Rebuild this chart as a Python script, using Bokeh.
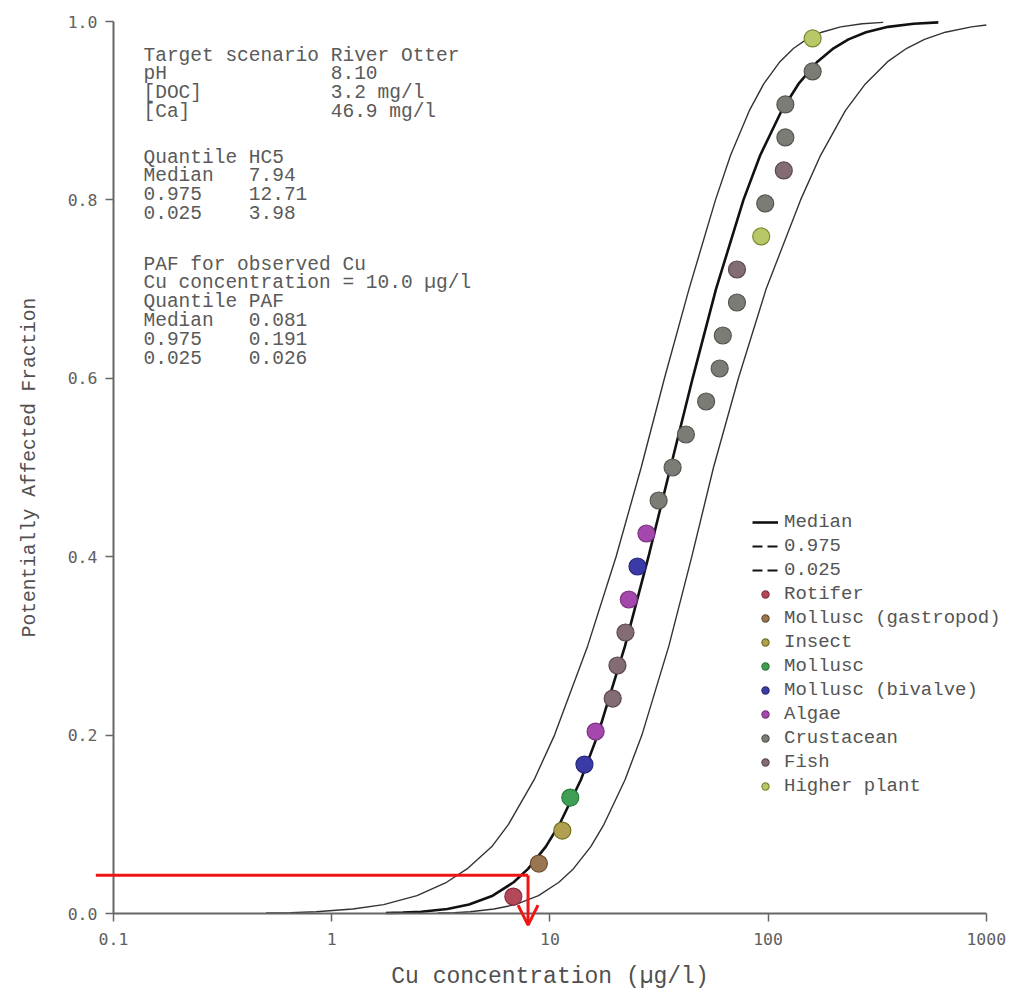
from bokeh.plotting import figure
from bokeh.models import (FixedTicker, Range1d, Legend, LegendItem, Label, Arrow,
                          OpenHead, NumeralTickFormatter)
from bokeh.embed import file_html
from bokeh.resources import INLINE

# ---------------- data ----------------
curve_paf = [0.0005, 0.001, 0.002, 0.005, 0.01, 0.02, 0.035, 0.05, 0.075, 0.1, 0.15, 0.2,
             0.3, 0.4, 0.5, 0.6, 0.7, 0.8, 0.85, 0.9, 0.93, 0.955, 0.97, 0.98, 0.988,
             0.994, 0.9975, 0.999]
median_conc = [1.77, 2.12, 2.57, 3.39, 4.26, 5.47, 6.82, 7.94, 9.58, 11.07, 13.87, 16.56,
               22.1, 28.3, 35.7, 45.1, 57.7, 77.1, 92.0, 115.3, 137.8, 168.3, 199.5,
               233.5, 281, 354.8, 464.5, 602.6]
upper_conc = [0.50, 0.647, 0.849, 1.25, 1.73, 2.46, 3.36, 4.17, 5.42, 6.46, 8.47, 10.5,
              14.9, 20.1, 26.2, 33.5, 43.4, 57.4, 67.3, 82.0, 95.5, 113.3, 131, 150,
              176, 215, 270, 337]
lower_paf = [0.0005, 0.001, 0.002, 0.005, 0.01, 0.02, 0.035, 0.05, 0.075, 0.1, 0.15, 0.2,
             0.3, 0.4, 0.5, 0.6, 0.7, 0.8, 0.85, 0.9, 0.93, 0.955, 0.97, 0.98, 0.988,
             0.994, 0.996]
lower_conc = [3.06, 3.65, 4.31, 5.55, 6.95, 8.87, 11.0, 12.8, 15.4, 17.7, 22.1, 26.4,
              35.1, 44.7, 56.2, 73.1, 97.9, 140.9, 174, 226, 279, 353, 432, 521, 649,
              855, 1000]

point_conc = [6.8, 8.9, 11.4, 12.4, 14.4, 16.2, 19.4, 20.4, 22.2, 23.0, 25.2, 27.7, 31.5,
              36.5, 42, 52, 60, 62, 72, 72, 93, 97, 118, 120, 120, 160, 160]
point_paf = [0.019, 0.056, 0.093, 0.130, 0.167, 0.204, 0.241, 0.278, 0.315, 0.352, 0.389,
             0.426, 0.463, 0.500, 0.537, 0.574, 0.611, 0.648, 0.685, 0.722, 0.759, 0.796,
             0.833, 0.870, 0.907, 0.944, 0.981]
point_group = ["Rotifer", "Mollusc (gastropod)", "Insect", "Mollusc", "Mollusc (bivalve)",
               "Algae", "Fish", "Fish", "Fish", "Algae", "Mollusc (bivalve)", "Algae",
               "Crustacean", "Crustacean", "Crustacean", "Crustacean", "Crustacean",
               "Crustacean", "Crustacean", "Fish", "Higher plant", "Crustacean", "Fish",
               "Crustacean", "Crustacean", "Crustacean", "Higher plant"]

groups = ["Rotifer", "Mollusc (gastropod)", "Insect", "Mollusc", "Mollusc (bivalve)",
          "Algae", "Crustacean", "Fish", "Higher plant"]
group_fill = ["#b2485a", "#9a7650", "#b0a050", "#3f9f55", "#3b3ba8",
              "#a548ad", "#7c7c76", "#836c74", "#b8c868"]
group_line = ["#8a2e40", "#6a4e30", "#707020", "#2a7a3a", "#28287a",
              "#7a3080", "#55554f", "#5c4850", "#7a8a30"]

guide_conc = [0.083, 7.94]      # red guide: start of horizontal, HC5 median
guide_paf = [0.043, -0.013]     # red guide: horizontal level, arrow tip

x_ticks = [0.1, 1, 10, 100, 1000]
x_tick_labels = ["0.1", "1", "10", "100", "1000"]
y_ticks = [0.0, 0.2, 0.4, 0.6, 0.8, 1.0]

info_blocks = [
    ["Target scenario River Otter",
     "pH              8.10",
     "[DOC]           3.2 mg/l",
     "[Ca]            46.9 mg/l"],
    ["Quantile HC5",
     "Median   7.94",
     "0.975    12.71",
     "0.025    3.98"],
    ["PAF for observed Cu",
     "Cu concentration = 10.0 \u00b5g/l",
     "Quantile PAF",
     "Median   0.081",
     "0.975    0.191",
     "0.025    0.026"],
]

# ---------------- figure ----------------
W, H = 1014, 993
AX_X, AX_Y = 113, 913     # page pixels where x=0.1 and y=0 fall
DEC, UNIT = 218.2, 892.0  # pixels per decade / per unit of PAF
x_start = 10 ** (-1 - AX_X / DEC)
x_end = 10 ** (-1 + (W - AX_X) / DEC)
y_start = -(H - AX_Y) / UNIT
y_end = 1 + (AX_Y - UNIT) / UNIT

p = figure(width=W, height=H, x_axis_type="log",
           x_range=Range1d(x_start, x_end), y_range=Range1d(y_start, y_end),
           min_border_left=0, min_border_right=0, min_border_top=0,
           min_border_bottom=0, toolbar_location=None, output_backend="svg")
p.grid.visible = False
p.outline_line_color = None
p.background_fill_color = "white"

p.xaxis.ticker = FixedTicker(ticks=x_ticks)
p.xaxis.major_label_overrides = {t: l for t, l in zip(x_ticks, x_tick_labels)}
p.xaxis.bounds = (0.1, 1000)
p.xaxis.fixed_location = 0
p.yaxis.ticker = FixedTicker(ticks=y_ticks)
p.yaxis.formatter = NumeralTickFormatter(format="0.0")
p.yaxis.bounds = (0, 1)
p.yaxis.fixed_location = 0.1
for ax in (p.xaxis, p.yaxis):
    ax.axis_line_color = "#666666"
    ax.axis_line_width = 2
    ax.major_tick_line_color = "#666666"
    ax.major_tick_line_width = 1.5
    ax.major_tick_out = 8
    ax.major_tick_in = 0
    ax.minor_tick_line_color = None
    ax.major_label_text_font = "DejaVu Sans Mono"
    ax.major_label_text_font_size = "16.5px"
    ax.major_label_text_color = "#606060"
    ax.major_label_standoff = 8
    ax.axis_label_text_font = "Liberation Mono"
    ax.axis_label_text_font_style = "normal"
    ax.axis_label_text_color = "#505050"
p.xaxis.major_label_standoff = 11
p.yaxis.axis_label = "Potentially Affected Fraction"
p.yaxis.axis_label_text_font_size = "19.5px"
p.yaxis.axis_label_standoff = 24
p.xaxis.axis_label = "Cu concentration (\u00b5g/l)"
p.xaxis.axis_label_text_font_size = "23px"
p.xaxis.axis_label_standoff = 16

# curves
p.line(upper_conc, curve_paf, line_color="#333333", line_width=1.4)
p.line(lower_conc, lower_paf, line_color="#333333", line_width=1.4)
r_med = p.line(median_conc, curve_paf, line_color="#111111", line_width=2.6)

# legend-only dashed renderers (no visible data)
nan2 = [float("nan"), float("nan")]
r_up_leg = p.line(nan2, nan2, line_color="#111111", line_width=2, line_dash="10 5")
r_lo_leg = p.line(nan2, nan2, line_color="#111111", line_width=2, line_dash="10 5")

items = [LegendItem(label="Median", renderers=[r_med]),
         LegendItem(label="0.975", renderers=[r_up_leg]),
         LegendItem(label="0.025", renderers=[r_lo_leg])]
for g, fc, lc in zip(groups, group_fill, group_line):
    xs = [c for c, gg in zip(point_conc, point_group) if gg == g]
    ys = [v for v, gg in zip(point_paf, point_group) if gg == g]
    r = p.scatter(xs, ys, size=17, fill_color=fc, line_color=lc, line_width=1.2)
    items.append(LegendItem(label=g, renderers=[r]))

legend = Legend(items=items, location=(752, H - 798), glyph_width=26,
                glyph_height=18, label_height=24, spacing=0, padding=0, margin=0,
                label_standoff=6, border_line_color=None, background_fill_alpha=0,
                label_text_font="Liberation Mono", label_text_font_size="19px",
                label_text_color="#555555")
p.add_layout(legend)

# red guide arrow
red = "#f01515"
p.add_layout(Arrow(end=None, x_start=guide_conc[0], y_start=guide_paf[0],
                   x_end=guide_conc[1], y_end=guide_paf[0],
                   line_color=red, line_width=3))
p.add_layout(Arrow(end=OpenHead(size=20, line_color=red, line_width=3),
                   x_start=guide_conc[1], y_start=guide_paf[0],
                   x_end=guide_conc[1], y_end=guide_paf[1],
                   line_color=red, line_width=3))

# info text
block_top = [55, 157, 264]
line_step = 18.9
for top, lines in zip(block_top, info_blocks):
    for i, t in enumerate(lines):
        p.add_layout(Label(x=143, y=H - (top + i * line_step), x_units="screen",
                           y_units="screen", text=t.replace(" ", "\u00a0"),
                           text_font="Liberation Mono", text_font_size="19.5px",
                           text_color="#5a5a5a", text_baseline="middle",
                           text_align="left"))

open("out.html", "w").write(file_html(p, INLINE))
